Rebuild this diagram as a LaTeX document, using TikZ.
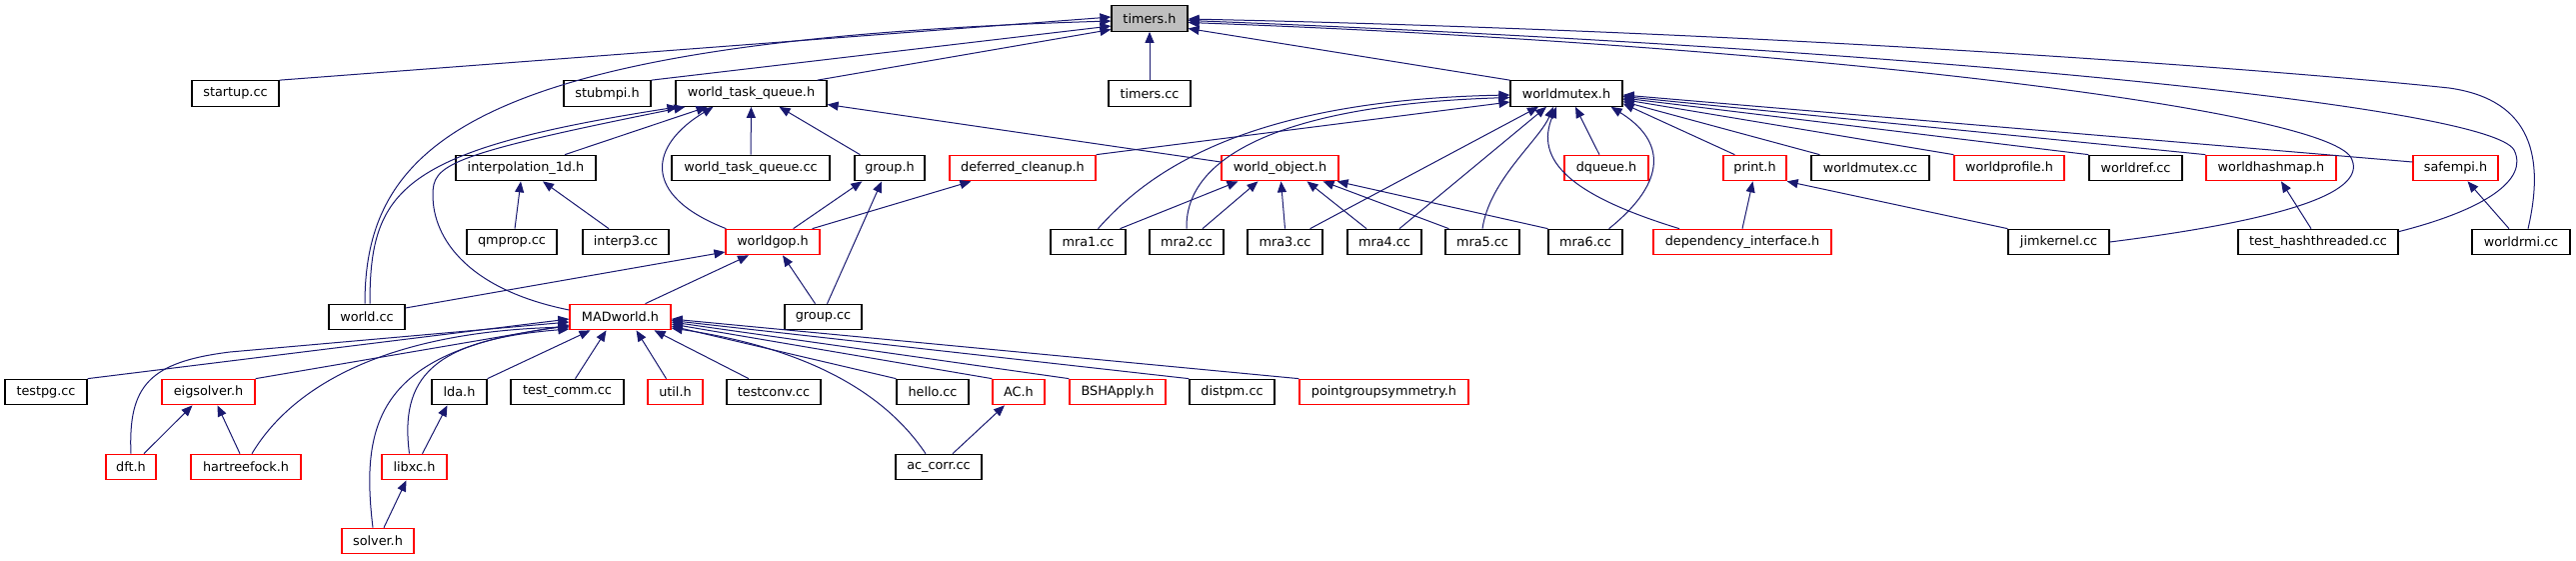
\documentclass[tikz,border=0pt]{standalone}
\usepackage{fontspec}
\setmainfont{DejaVu Sans}
\usepackage{tikz}
\usetikzlibrary{arrows.meta,calc}
\definecolor{cEdge}{HTML}{191970}
\definecolor{cTrunc}{HTML}{FF0000}
\definecolor{cRoot}{HTML}{BFBFBF}
\tikzset{
  fbox/.style    = {draw=black, line width=1.2pt, fill=white, inner sep=0pt,
                    minimum height=25.5pt, font=\fontsize{12.8}{14}\selectfont},
  rbox/.style    = {fbox, draw=cTrunc},
  rootbox/.style = {fbox, fill=cRoot},
  inc/.style     = {draw=cEdge, line width=1pt, -{Triangle[length=11pt,width=9pt]}},
}
\begin{document}
\begin{tikzpicture}[x=1pt, y=-1pt]
  \useasboundingbox (0,0) rectangle (2577,560);
  % row 0
  \node[rootbox, minimum width=76pt] (timersh) at (1150,18.5) {timers.h};
  % row 1
  \node[fbox, minimum width=87pt]  (startupcc) at (235.5,93.5) {startup.cc};
  \node[fbox, minimum width=87pt]  (stubmpih)  at (607.5,93.5) {stubmpi.h};
  \node[fbox, minimum width=151pt] (wtqh)      at (751.5,93.5) {world\_task\_queue.h};
  \node[fbox, minimum width=82pt]  (timerscc)  at (1150,93.5)  {timers.cc};
  \node[fbox, minimum width=112pt] (wmutexh)   at (1567,93.5)  {worldmutex.h};
  % row 2
  \node[fbox, minimum width=140pt] (interph)  at (526,168)    {interpolation\_1d.h};
  \node[fbox, minimum width=158pt] (wtqcc)    at (751,168)    {world\_task\_queue.cc};
  \node[fbox, minimum width=70pt]  (grouph)   at (890,168)    {group.h};
  \node[rbox, minimum width=146pt] (dcleanh)  at (1023,168)   {deferred\_cleanup.h};
  \node[rbox, minimum width=117pt] (wobjh)    at (1280.5,168) {world\_object.h};
  \node[rbox, minimum width=84pt]  (dqueueh)  at (1607,168)   {dqueue.h};
  \node[rbox, minimum width=63pt]  (printh)   at (1755.5,168) {print.h};
  \node[fbox, minimum width=118pt] (wmutexcc) at (1871,168)   {worldmutex.cc};
  \node[rbox, minimum width=110pt] (wprofh)   at (2010,168)   {worldprofile.h};
  \node[fbox, minimum width=93pt]  (wrefcc)   at (2136.5,168) {worldref.cc};
  \node[rbox, minimum width=130pt] (whashh)   at (2272,168)   {worldhashmap.h};
  \node[rbox, minimum width=85pt]  (safempih) at (2456.5,168) {safempi.h};
  % row 3
  \node[fbox, minimum width=90pt]  (qmpropcc)    at (512,242)    {qmprop.cc};
  \node[fbox, minimum width=86pt]  (interp3cc)   at (626,242)    {interp3.cc};
  \node[rbox, minimum width=94pt]  (wgoph)       at (773,242)    {worldgop.h};
  \node[fbox, minimum width=75pt]  (mra1)        at (1088.5,242) {mra1.cc};
  \node[fbox, minimum width=74pt]  (mra2)        at (1187,242)   {mra2.cc};
  \node[fbox, minimum width=75pt]  (mra3)        at (1285.5,242) {mra3.cc};
  \node[fbox, minimum width=74pt]  (mra4)        at (1385,242)   {mra4.cc};
  \node[fbox, minimum width=74pt]  (mra5)        at (1483,242)   {mra5.cc};
  \node[fbox, minimum width=74pt]  (mra6)        at (1586,242)   {mra6.cc};
  \node[rbox, minimum width=178pt] (depifh)      at (1743,242)   {dependency\_interface.h};
  \node[fbox, minimum width=101pt] (jimkernelcc) at (2059.5,242) {jimkernel.cc};
  \node[fbox, minimum width=160pt] (thashcc)     at (2319,242)   {test\_hashthreaded.cc};
  \node[fbox, minimum width=98pt]  (wrmicc)      at (2522,242)   {worldrmi.cc};
  % row 4
  \node[fbox, minimum width=76pt]  (worldcc) at (367,317)   {world.cc};
  \node[rbox, minimum width=101pt] (madh)    at (620.5,317) {MADworld.h};
  \node[fbox, minimum width=77pt]  (groupcc) at (823.5,317) {group.cc};
  % row 5
  \node[fbox, minimum width=82pt]  (testpgcc) at (46,392)     {testpg.cc};
  \node[rbox, minimum width=93pt]  (eigh)     at (208.5,392)  {eigsolver.h};
  \node[fbox, minimum width=55pt]  (ldah)     at (459.5,392)  {lda.h};
  \node[fbox, minimum width=113pt] (tcommcc)  at (567.5,392)  {test\_comm.cc};
  \node[rbox, minimum width=55pt]  (utilh)    at (675.5,392)  {util.h};
  \node[fbox, minimum width=94pt]  (tconvcc)  at (774,392)    {testconv.cc};
  \node[fbox, minimum width=72pt]  (hellocc)  at (933,392)    {hello.cc};
  \node[rbox, minimum width=52pt]  (ach)      at (1019,392)   {AC.h};
  \node[rbox, minimum width=96pt]  (bshh)     at (1118,392)   {BSHApply.h};
  \node[fbox, minimum width=85pt]  (distpmcc) at (1232.5,392) {distpm.cc};
  \node[rbox, minimum width=169pt] (pgsymh)   at (1384.5,392) {pointgroupsymmetry.h};
  % row 6
  \node[rbox, minimum width=50pt]  (dfth)    at (131,467)   {dft.h};
  \node[rbox, minimum width=110pt] (hfh)     at (246,467)   {hartreefock.h};
  \node[rbox, minimum width=65pt]  (libxch)  at (414.5,467) {libxc.h};
  \node[fbox, minimum width=86pt]  (acorrcc) at (939,467)   {ac\_corr.cc};
  % row 7
  \node[rbox, minimum width=72pt]  (solverh) at (378,541) {solver.h};

  % into timers.h
  \draw[inc] (startupcc.north east) -- ($(timersh.west)+(0,-1.5)$);
  \draw[inc] ($(worldcc.north)+(-2,0)$) .. controls (365,140) and (480,40)
    .. ($(timersh.west)+(0,2.5)$);
  \draw[inc] (stubmpih.north east) -- ($(timersh.west)+(0,7.5)$);
  \draw[inc] ($(wtqh.north east)+(-10,0)$) -- ($(timersh.west)+(0,11)$);
  \draw[inc] (timerscc) -- (timersh);
  \draw[inc] (wmutexh.north west) -- ($(timersh.east)+(0,10)$);
  \draw[inc] (jimkernelcc.east) .. controls (2300,218) and (2365,190) .. (2353,160)
    .. controls (2340,110) and (1800,45) .. ($(timersh.east)+(0,4)$);
  \draw[inc] ($(thashcc.north east)+(0,3)$) .. controls (2485,210) and (2530,180) .. (2515,150)
    .. controls (2490,105) and (1900,48) .. ($(timersh.east)+(0,2)$);
  \draw[inc] ($(wrmicc.north)+(7,0)$) .. controls (2545,160) and (2535,100) .. (2450,88)
    .. controls (2300,72) and (1800,32) .. ($(timersh.east)+(0,0.5)$);

  % into worldmutex.h
  \draw[inc] (dcleanh.north east) -- ($(wmutexh.west)+(0,8.5)$);
  \draw[inc] ($(mra1.north)+(10,0)$) .. controls (1150,170) and (1250,100)
    .. ($(wmutexh.west)+(0,1.5)$);
  \draw[inc] (mra2.north) .. controls (1185,150) and (1300,104)
    .. ($(wmutexh.west)+(0,4)$);
  \draw[inc] ($(mra3.north east)+(-13,0)$) -- ($(wmutexh.south)+(-28,0)$);
  \draw[inc] ($(mra4.north)+(15,0)$) -- ($(wmutexh.south)+(-20,0)$);
  \draw[inc] (mra5.north) .. controls (1490,180) and (1540,140)
    .. ($(wmutexh.south)+(-13,0)$);
  \draw[inc] ($(depifh.north)+(-63,0)$) .. controls (1570,195) and (1535,160)
    .. ($(wmutexh.south)+(-10,0)$);
  \draw[inc] ($(dqueueh.north)+(-7,0)$) -- ($(wmutexh.south)+(9,0)$);
  \draw[inc] ($(mra6.north east)+(-14,0)$) .. controls (1670,180) and (1665,140)
    .. ($(wmutexh.south east)+(-12,0)$);
  \draw[inc] ($(printh.north west)+(12,0)$) -- ($(wmutexh.east)+(0,10)$);
  \draw[inc] ($(wmutexcc.north west)+(9,0)$) -- ($(wmutexh.east)+(0,8)$);
  \draw[inc] (wprofh.north west) -- ($(wmutexh.east)+(0,6)$);
  \draw[inc] (wrefcc.north west) -- ($(wmutexh.east)+(0,4.5)$);
  \draw[inc] (whashh.north west) -- ($(wmutexh.east)+(0,3)$);
  \draw[inc] ($(safempih.west)+(0,-6)$) -- ($(wmutexh.east)+(0,1.5)$);

  % into world_object.h
  \draw[inc] ($(mra1.north)+(32,0)$) -- ($(wobjh.south)+(-42,0)$);
  \draw[inc] ($(mra2.north)+(16,0)$) -- ($(wobjh.south)+(-22,0)$);
  \draw[inc] (mra3.north) -- ($(wobjh.south)+(1,0)$);
  \draw[inc] ($(mra4.north)+(-18,0)$) -- ($(wobjh.south)+(27,0)$);
  \draw[inc] ($(mra5.north west)+(4,0)$) -- ($(wobjh.south)+(43,0)$);
  \draw[inc] (mra6.north west) -- ($(wobjh.south east)+(-2,0)$);

  % into world_task_queue.h
  \draw[inc] ($(wobjh.west)+(0,-6)$) -- ($(wtqh.east)+(0,11)$);
  \draw[inc] ($(worldcc.north)+(3,0)$) .. controls (370,190) and (400,150)
    .. ($(wtqh.south west)+(3,0)$);
  \draw[inc] ($(madh.west)+(0,-7)$) .. controls (470,290) and (433,240) .. (433,195)
    .. controls (433,165) and (445,155) .. ($(wtqh.south west)+(10,0)$);
  \draw[inc] ($(interph.north)+(39,0)$) -- ($(wtqh.south)+(-44,0)$);
  \draw[inc] ($(wgoph.north west)+(1,0)$) .. controls (640,195) and (650,145)
    .. ($(wtqh.south)+(-38,0)$);
  \draw[inc] (wtqcc) -- (wtqh);
  \draw[inc] ($(grouph.north west)+(6,0)$) -- ($(wtqh.south)+(28,0)$);

  % into interpolation_1d.h
  \draw[inc] ($(qmpropcc.north)+(3,0)$) -- ($(interph.south)+(-5,0)$);
  \draw[inc] ($(interp3cc.north)+(-17,0)$) -- ($(interph.south)+(17,0)$);

  % worldgop.h, group.h, deferred_cleanup.h
  \draw[inc] ($(worldcc.east)+(0,-9)$) -- ($(wgoph.west)+(0,10)$);
  \draw[inc] ($(madh.north)+(25,0)$) -- ($(wgoph.south)+(-24,0)$);
  \draw[inc] ($(groupcc.north)+(-8,0)$) -- ($(wgoph.south)+(10,0)$);
  \draw[inc] ($(wgoph.north east)+(-27,0)$) -- ($(grouph.south west)+(8,0)$);
  \draw[inc] ($(wgoph.north east)+(-8,0)$) -- ($(dcleanh.south west)+(22,0)$);
  \draw[inc] ($(groupcc.north)+(4,0)$) -- ($(grouph.south)+(-8,0)$);

  % print.h, worldhashmap.h, safempi.h
  \draw[inc] (depifh.north) -- ($(printh.south)+(-2,0)$);
  \draw[inc] (jimkernelcc.north west) -- (printh.south east);
  \draw[inc] ($(thashcc.north)+(-7,0)$) -- ($(whashh.south)+(10,0)$);
  \draw[inc] ($(wrmicc.north)+(-12,0)$) -- ($(safempih.south)+(12,0)$);

  % into MADworld.h
  \draw[inc] (testpgcc.north east) -- ($(madh.west)+(0,2)$);
  \draw[inc] (dfth.north) .. controls (128,385) and (150,362) .. (230,352)
    -- ($(madh.west)+(0,5)$);
  \draw[inc] (eigh.north east) -- ($(madh.west)+(0,8)$);
  \draw[inc] ($(hfh.north)+(6,0)$) .. controls (290,390) and (380,332)
    .. ($(madh.west)+(0,10)$);
  \draw[inc] ($(solverh.north)+(-5,0)$) .. controls (360,420) and (380,350)
    .. ($(madh.west)+(0,9)$);
  \draw[inc] ($(libxch.north)+(-5,0)$) .. controls (400,380) and (430,340)
    .. ($(madh.west)+(0,12)$);
  \draw[inc] (ldah.north east) -- ($(madh.south)+(-30,0)$);
  \draw[inc] ($(tcommcc.north)+(8,0)$) -- ($(madh.south)+(-14,0)$);
  \draw[inc] ($(utilh.north)+(-9,0)$) -- ($(madh.south)+(16,0)$);
  \draw[inc] ($(tconvcc.north)+(-25,0)$) -- ($(madh.south)+(34,0)$);
  \draw[inc] ($(acorrcc.north)+(-13,0)$) .. controls (890,400) and (820,350)
    .. ($(madh.east)+(0,11)$);
  \draw[inc] (hellocc.north west) -- ($(madh.east)+(0,9)$);
  \draw[inc] (ach.north west) -- ($(madh.east)+(0,7)$);
  \draw[inc] (bshh.north west) -- ($(madh.east)+(0,5)$);
  \draw[inc] (distpmcc.north west) -- ($(madh.east)+(0,3.5)$);
  \draw[inc] (pgsymh.north west) -- ($(madh.east)+(0,2)$);

  % lower headers
  \draw[inc] ($(acorrcc.north)+(14,0)$) -- ($(ach.south)+(-14,0)$);
  \draw[inc] ($(dfth.north)+(13,0)$) -- ($(eigh.south)+(-16,0)$);
  \draw[inc] ($(hfh.north)+(-6,0)$) -- ($(eigh.south)+(9,0)$);
  \draw[inc] ($(libxch.north)+(8,0)$) -- ($(ldah.south)+(-12,0)$);
  \draw[inc] ($(solverh.north)+(6,0)$) -- ($(libxch.south)+(-8,0)$);
\end{tikzpicture}
\end{document}
